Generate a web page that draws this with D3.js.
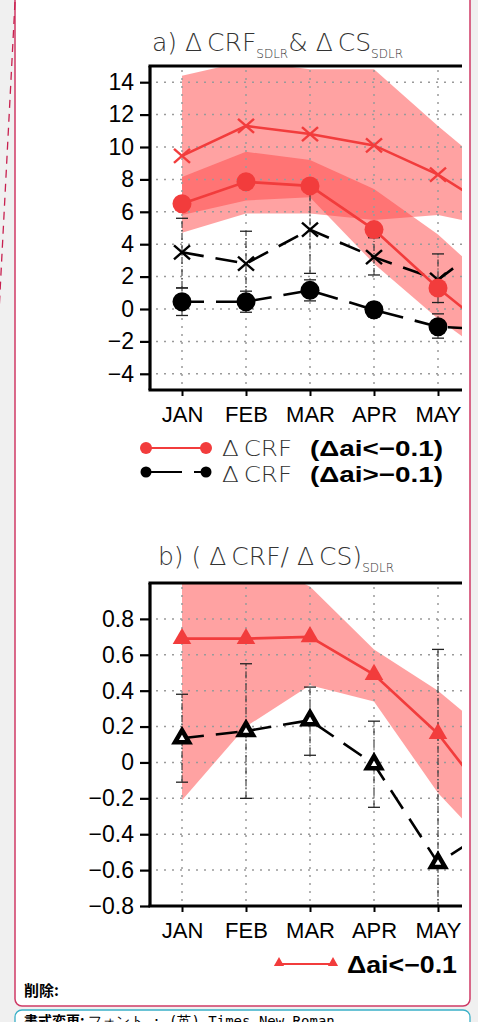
<!DOCTYPE html>
<html>
<head>
<meta charset="utf-8">
<script src="https://cdn.jsdelivr.net/npm/d3@7"></script>
<style>
  html, body { margin: 0; padding: 0; background: #f0f0f0; }
  svg { display: block; }
  .tick text { font-family: "Liberation Sans", Arial, sans-serif; fill: #000; }
  .thin { font-family: "DejaVu Sans", sans-serif; font-weight: 200; fill: #333; }
</style>
</head>
<body>
<svg id="chart" width="478" height="1022"></svg>
<script>
// months (JUN lies past the cropped right edge)
var months = ["JAN", "FEB", "MAR", "APR", "MAY", "JUN"];
var shownMonths = ["JAN", "FEB", "MAR", "APR", "MAY"];

// panel a
var ticksA = [-4, -2, 0, 2, 4, 6, 8, 10, 12, 14];
var csRed = [9.45, 11.3, 10.8, 10.1, 8.3, 5.8];
var csRedHi = [14.4, 15.3, 14.8, 14.8, 11.3, 8.0];
var csRedLo = [4.7, 5.9, 5.9, 5.5, 5.8, 5.0];
var crfRed = [6.5, 7.85, 7.6, 4.9, 1.3, -1.9];
var crfRedHi = [8.15, 9.7, 9.2, 7.4, 4.6, 1.0];
var crfRedLo = [5.8, 6.7, 6.9, 2.8, -0.6, -3.5];
var csBlk = [3.5, 2.8, 4.9, 3.2, 1.8, 4.8];
var csBlkLo = [1.3, 0.8, 2.2, 2.1, 0.4, 2.8];
var csBlkHi = [5.6, 4.8, 7.5, 4.4, 3.4, 6.8];
var crfBlk = [0.45, 0.45, 1.15, -0.05, -1.1, -1.3];
var crfBlkLo = [-0.4, -0.2, 0.5, -0.5, -1.8, -2.0];
var crfBlkHi = [1.3, 1.1, 1.8, 0.4, -0.3, -0.6];

// panel b
var ticksB = [-0.8, -0.6, -0.4, -0.2, 0, 0.2, 0.4, 0.6, 0.8];
var ratioRed = [0.69, 0.69, 0.70, 0.49, 0.16, -0.30];
var ratioRedHi = [1.2, 1.15, 0.98, 0.63, 0.40, 0.10];
var ratioRedLo = [-0.21, 0.2, 0.43, 0.34, -0.17, -0.55];
var ratioBlk = [0.135, 0.175, 0.235, -0.01, -0.56, -0.33];
var ratioBlkLo = [-0.11, -0.2, 0.04, -0.25, -0.95, -0.7];
var ratioBlkHi = [0.38, 0.55, 0.42, 0.23, 0.63, 0.1];

var RED = "#f23c3c";
var BAND = "#ff4646";

var svg = d3.select("#chart");

// page box
svg.append("rect").attr("x", 15).attr("y", -8).attr("width", 455).attr("height", 1014)
  .attr("rx", 7).attr("fill", "#fff").attr("stroke", "#cf3a66").attr("stroke-width", 1.5);
svg.append("line").attr("x1", 15).attr("y1", 2).attr("x2", -1).attr("y2", 312)
  .attr("stroke", "#c8204f").attr("stroke-width", 1.3).attr("stroke-dasharray", "8,6");
svg.append("rect").attr("x", 15).attr("y", 1010).attr("width", 455).attr("height", 40)
  .attr("rx", 7).attr("fill", "#fff").attr("stroke", "#3ab0c8").attr("stroke-width", 1.3);
svg.append("text").attr("x", 24).attr("y", 996)
  .style("font-family", "'Noto Sans CJK JP'").style("font-weight", "bold").style("font-size", "15px")
  .text("削除:");
var note = svg.append("text").attr("x", 24).attr("y", 1026)
  .style("font-family", "'Noto Sans CJK JP'").style("font-size", "14px");
note.append("tspan").style("font-weight", "bold").text("書式変更: ");
note.append("tspan").style("font-family", "'DejaVu Sans Mono', monospace").text("フォント : (英) Times New Roman");

var x = d3.scalePoint().domain(months).range([182, 502]);
var left = 150, right = 462;

function panel(id, top, bottom, domain, ticks, fmt) {
  var y = d3.scaleLinear().domain(domain).range([bottom, top]);
  var g = svg.append("g");
  svg.append("clipPath").attr("id", id).append("rect")
    .attr("x", left).attr("y", top).attr("width", right - left).attr("height", bottom - top);
  var plot = g.append("g").attr("clip-path", "url(#" + id + ")");
  return { y: y, g: g, plot: plot, top: top, bottom: bottom, ticks: ticks, fmt: fmt };
}

function band(p, hi, lo) {
  var area = d3.area().x(function(d, i) { return x(months[i]); })
    .y0(function(d, i) { return p.y(lo[i]); })
    .y1(function(d, i) { return p.y(hi[i]); });
  p.plot.append("path").datum(hi).attr("d", area)
    .attr("fill", BAND).attr("fill-opacity", 0.5);
}

function grid(p) {
  var gg = p.plot.append("g").attr("stroke", "#9a9a9a").attr("stroke-width", 1.5)
    .attr("stroke-dasharray", "2,6");
  gg.selectAll(".h").data(p.ticks.filter(function(t) { return p.y(t) < p.bottom - 2; }))
    .enter().append("line")
    .attr("x1", left + 6).attr("x2", right)
    .attr("y1", function(d) { return p.y(d); }).attr("y2", function(d) { return p.y(d); });
  gg.selectAll(".v").data(months).enter().append("line")
    .attr("x1", function(d) { return x(d); }).attr("x2", function(d) { return x(d); })
    .attr("y1", p.top + 4).attr("y2", p.bottom);
}

function errbars(p, lo, hi) {
  var eg = p.plot.append("g").attr("stroke", "#222").attr("stroke-width", 1)
    .attr("fill", "none");
  months.forEach(function(m, i) {
    var cx = x(m);
    eg.append("line").attr("x1", cx).attr("x2", cx)
      .attr("y1", p.y(lo[i])).attr("y2", p.y(hi[i])).attr("stroke-dasharray", "7,2,1,2");
    [lo[i], hi[i]].forEach(function(v) {
      eg.append("line").attr("x1", cx - 6).attr("x2", cx + 6)
        .attr("y1", p.y(v)).attr("y2", p.y(v)).attr("stroke-width", 1.3);
    });
  });
}

function series(p, vals, color, dash) {
  var line = d3.line().x(function(d, i) { return x(months[i]); }).y(function(d) { return p.y(d); });
  p.plot.append("path").datum(vals).attr("d", line).attr("fill", "none")
    .attr("stroke", color).attr("stroke-width", 2.6)
    .attr("stroke-dasharray", dash ? "22,12" : null);
}

function crosses(p, vals, color) {
  var cg = p.plot.append("g").attr("stroke", color).attr("stroke-width", 2.4);
  vals.forEach(function(v, i) {
    var cx = x(months[i]), cy = p.y(v);
    cg.append("line").attr("x1", cx - 8).attr("y1", cy - 7).attr("x2", cx + 8).attr("y2", cy + 7);
    cg.append("line").attr("x1", cx - 8).attr("y1", cy + 7).attr("x2", cx + 8).attr("y2", cy - 7);
  });
}

function dots(p, vals, color, r) {
  p.plot.selectAll(null).data(vals).enter().append("circle")
    .attr("cx", function(d, i) { return x(months[i]); })
    .attr("cy", function(d) { return p.y(d); })
    .attr("r", r).attr("fill", color);
}

function tris(p, vals, color, hollow) {
  var sym = d3.symbol().type(d3.symbolTriangle).size(hollow ? 85 : 150);
  p.plot.selectAll(null).data(vals).enter().append("path")
    .attr("d", sym)
    .attr("transform", function(d, i) { return "translate(" + x(months[i]) + "," + p.y(d) + ")"; })
    .attr("fill", hollow ? "#fff" : color)
    .attr("stroke", hollow ? color : "none").attr("stroke-width", 4.5)
    .attr("stroke-linejoin", "miter");
}

function axes(p) {
  var ya = d3.axisLeft(p.y).tickValues(p.ticks).tickSize(10).tickPadding(6)
    .tickFormat(p.fmt);
  var ay = p.g.append("g").attr("transform", "translate(" + left + ",0)").call(ya);
  ay.select(".domain").remove();
  ay.selectAll(".tick line").attr("stroke-width", 2.2);
  ay.selectAll(".tick text").style("font-size", "23px");

  var xa = d3.axisBottom(x).tickValues(shownMonths).tickSize(6);
  var ax = p.g.append("g").attr("transform", "translate(0," + p.bottom + ")").call(xa);
  ax.select(".domain").remove();
  ax.selectAll(".tick line").attr("stroke-width", 2);
  ax.selectAll(".tick text").style("font-size", "22px").attr("y", 32).attr("dy", null);

  var frame = p.g.append("g").attr("stroke", "#000").attr("stroke-width", 3.2).attr("fill", "none");
  frame.append("path").attr("d", "M" + left + "," + p.top + "V" + p.bottom);
  frame.append("path").attr("d", "M" + (left - 1.5) + "," + p.top + "H" + right);
  frame.append("path").attr("d", "M" + (left - 1.5) + "," + p.bottom + "H" + right);
}

function minus(v) { return String(v).replace("-", "\u2212"); }

// ---------- panel a ----------
var pa = panel("clipA", 66, 390, [-5, 15], ticksA, function(d) { return minus(d); });
band(pa, csRedHi, csRedLo);
band(pa, crfRedHi, crfRedLo);
grid(pa);
errbars(pa, csBlkLo, csBlkHi);
errbars(pa, crfBlkLo, crfBlkHi);
series(pa, csBlk, "#000", true);
series(pa, crfBlk, "#000", true);
crosses(pa, csBlk, "#000");
dots(pa, crfBlk, "#000", 9.5);
series(pa, csRed, RED, false);
series(pa, crfRed, RED, false);
crosses(pa, csRed, RED);
dots(pa, crfRed, RED, 9.5);
axes(pa);

var ta = svg.append("text").attr("class", "thin").attr("x", 152).attr("y", 51).style("font-size", "25px");
ta.append("tspan").text("a) \u0394\u2009CRF");
ta.append("tspan").attr("dy", 7).style("font-size", "12px").text("SDLR");
ta.append("tspan").attr("dy", -7).text("& \u0394\u2009CS");
ta.append("tspan").attr("dy", 7).style("font-size", "12px").text("SDLR");

// legend a
var la = svg.append("g");
la.append("line").attr("x1", 146).attr("x2", 206).attr("y1", 448).attr("y2", 448)
  .attr("stroke", RED).attr("stroke-width", 2);
la.selectAll(null).data([146, 206]).enter().append("circle")
  .attr("cx", function(d) { return d; }).attr("cy", 448).attr("r", 6).attr("fill", RED);
la.append("line").attr("x1", 146).attr("x2", 182).attr("y1", 472).attr("y2", 472)
  .attr("stroke", "#000").attr("stroke-width", 2);
la.selectAll(null).data([146, 206]).enter().append("circle")
  .attr("cx", function(d) { return d; }).attr("cy", 472).attr("r", 5.5).attr("fill", "#000");
la.append("line").attr("x1", 194).attr("x2", 206).attr("y1", 472).attr("y2", 472)
  .attr("stroke", "#000").attr("stroke-width", 2);
[[456, "(\u0394ai<\u22120.1)"], [482, "(\u0394ai>\u22120.1)"]].forEach(function(r) {
  la.append("text").attr("class", "thin").attr("x", 222).attr("y", r[0])
    .attr("textLength", 70).attr("lengthAdjust", "spacingAndGlyphs")
    .style("font-size", "22px").text("\u0394\u2009CRF");
  la.append("text").attr("x", 310).attr("y", r[0]).attr("textLength", 133)
    .attr("lengthAdjust", "spacingAndGlyphs")
    .style("font-family", "'Liberation Sans', Arial, sans-serif").style("font-weight", "bold")
    .style("font-size", "22px").text(r[1]);
});

// ---------- panel b ----------
var pb = panel("clipB", 583, 906, [-0.8, 1.0], ticksB, function(d) { return d === 0 ? "0" : minus(d3.format(".1f")(d)); });
band(pb, ratioRedHi, ratioRedLo);
grid(pb);
errbars(pb, ratioBlkLo, ratioBlkHi);
series(pb, ratioBlk, "#000", true);
tris(pb, ratioBlk, "#000", true);
series(pb, ratioRed, RED, false);
tris(pb, ratioRed, RED, false);
axes(pb);

var tb = svg.append("text").attr("class", "thin").attr("x", 158).attr("y", 565).style("font-size", "25px");
tb.append("tspan").text("b)   ( \u0394\u2009CRF/ \u0394\u2009CS)");
tb.append("tspan").attr("dy", 7).style("font-size", "12px").text("SDLR");

// legend b
var lb = svg.append("g");
lb.append("line").attr("x1", 279).attr("x2", 333).attr("y1", 964).attr("y2", 964)
  .attr("stroke", RED).attr("stroke-width", 2);
lb.selectAll(null).data([279, 333]).enter().append("path")
  .attr("d", d3.symbol().type(d3.symbolTriangle).size(45))
  .attr("transform", function(d) { return "translate(" + d + ",963)"; })
  .attr("fill", RED);
lb.append("text").attr("x", 347).attr("y", 973).attr("textLength", 110)
  .attr("lengthAdjust", "spacingAndGlyphs")
  .style("font-family", "'Liberation Sans', Arial, sans-serif").style("font-weight", "bold")
  .style("font-size", "23px").text("\u0394ai<\u22120.1");
</script>
</body>
</html>
